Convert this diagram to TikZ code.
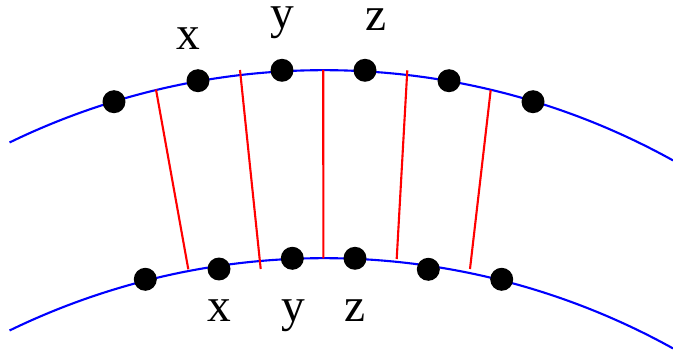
\documentclass[tikz,border=0pt]{standalone}
\usepackage{fontspec}
\setmainfont{Liberation Serif}
\usepackage{tikz}
\usetikzlibrary{calc}

\begin{document}
\begin{tikzpicture}[x=0.02cm, y=0.02cm,
        every node/.style={font=\fontsize{27}{30}\selectfont},
        arcline/.style={blue, line width=1.2pt},
        link/.style={red, line width=1.2pt},
        dot/.style={circle, fill=black, inner sep=0pt, minimum size=0.46cm},
        lbl/.style={anchor=base, inner sep=0pt}]
        \useasboundingbox (0,0) rectangle (673,355);

        % outer and inner arcs (same radius)
        \coordinate (oc) at (324,-435);
        \coordinate (ic) at (324,-623);
        \draw[arcline] ($(oc)+(115.9:14.4cm)$) arc[start angle=115.9, end angle=61, radius=14.4cm];
        \draw[arcline] ($(ic)+(115.9:14.4cm)$) arc[start angle=115.9, end angle=61, radius=14.4cm];

        % red links between the arcs
        \coordinate (a1) at (156,265.5);   \coordinate (b1) at (188.3,85.7);
        \coordinate (a2) at (240,285);     \coordinate (b2) at (260.7,86);
        \coordinate (a3) at (323.2,285);   \coordinate (b3) at (323.4,96.7);
        \coordinate (a4) at (407.3,284.7); \coordinate (b4) at (396.7,96);
        \coordinate (a5) at (490.7,265);   \coordinate (b5) at (470,86);
        \draw[link] (a1) -- (b1);
        \draw[link] (a2) -- (b2);
        \draw[link] (a3) -- (b3);
        \draw[link] (a4) -- (b4);
        \draw[link] (a5) -- (b5);

        % dots on the outer arc
        \node[dot] (o1) at (114,253.3) {};
        \node[dot] (o2) at (198,274.3) {};
        \node[dot] (o3) at (282,284.7) {};
        \node[dot] (o4) at (365,284.7) {};
        \node[dot] (o5) at (449,274.3) {};
        \node[dot] (o6) at (533,253.3) {};

        % dots on the inner arc
        \node[dot] (i1) at (145.3,75.7) {};
        \node[dot] (i2) at (219,86) {};
        \node[dot] (i3) at (292.3,96.7) {};
        \node[dot] (i4) at (355,96.7) {};
        \node[dot] (i5) at (428.3,85.7) {};
        \node[dot] (i6) at (501.7,75.7) {};

        % labels
        \node[lbl] (ox) at (188,305) {x};
        \node[lbl] (oy) at (282,326) {y};
        \node[lbl] (oz) at (376,324) {z};
        \node[lbl] (ix) at (219,33.5) {x};
        \node[lbl] (iy) at (293,33.5) {y};
        \node[lbl] (iz) at (355,33.5) {z};
    \end{tikzpicture}
\end{document}
